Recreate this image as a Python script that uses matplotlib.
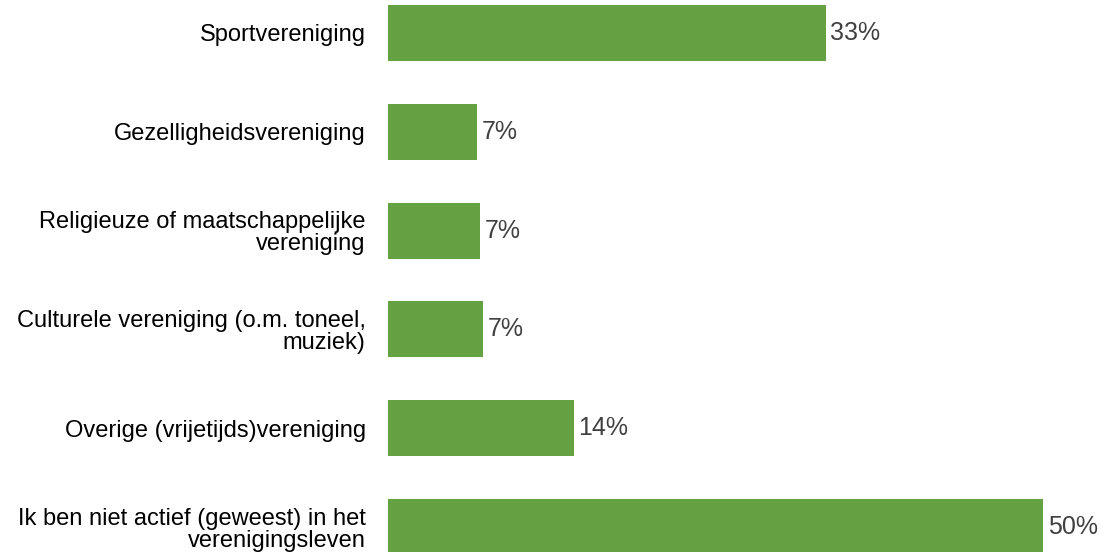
import matplotlib.pyplot as plt

plt.rcParams['font.family'] = ['Liberation Sans', 'DejaVu Sans']

categories = [
    "Sportvereniging",
    "Gezelligheidsvereniging",
    "Religieuze of maatschappelijke\nvereniging",
    "Culturele vereniging (o.m. toneel,\nmuziek)",
    "Overige (vrijetijds)vereniging",
    "Ik ben niet actief (geweest) in het\nverenigingsleven",
]
values = [33.4, 6.8, 7.0, 7.25, 14.2, 50.0]
value_labels = ["33%", "7%", "7%", "7%", "14%", "50%"]

fig = plt.figure(figsize=(11.04, 5.52), dpi=100)
ax = fig.add_axes([388 / 1104, 0, 1 - 388 / 1104, 1])

y = list(range(len(categories)))
ax.barh(y, values, height=0.566, color='#63A142')

for yi, v, lab in zip(y, values, value_labels):
    ax.text(v + 0.35, yi, lab, va='center', ha='left', fontsize=18, color='#404040')

ax.set_xlim(0, (1104 - 388) / 13.1)
ax.set_ylim(5 + 25 / 99, -33 / 99)
ax.set_yticks(y)
ax.set_yticklabels(categories, fontsize=17, color='#000000', linespacing=1.0)
ax.tick_params(axis='y', length=0, pad=16)
ax.set_xticks([])
for s in ax.spines.values():
    s.set_visible(False)

plt.savefig('out.png', dpi=100)
